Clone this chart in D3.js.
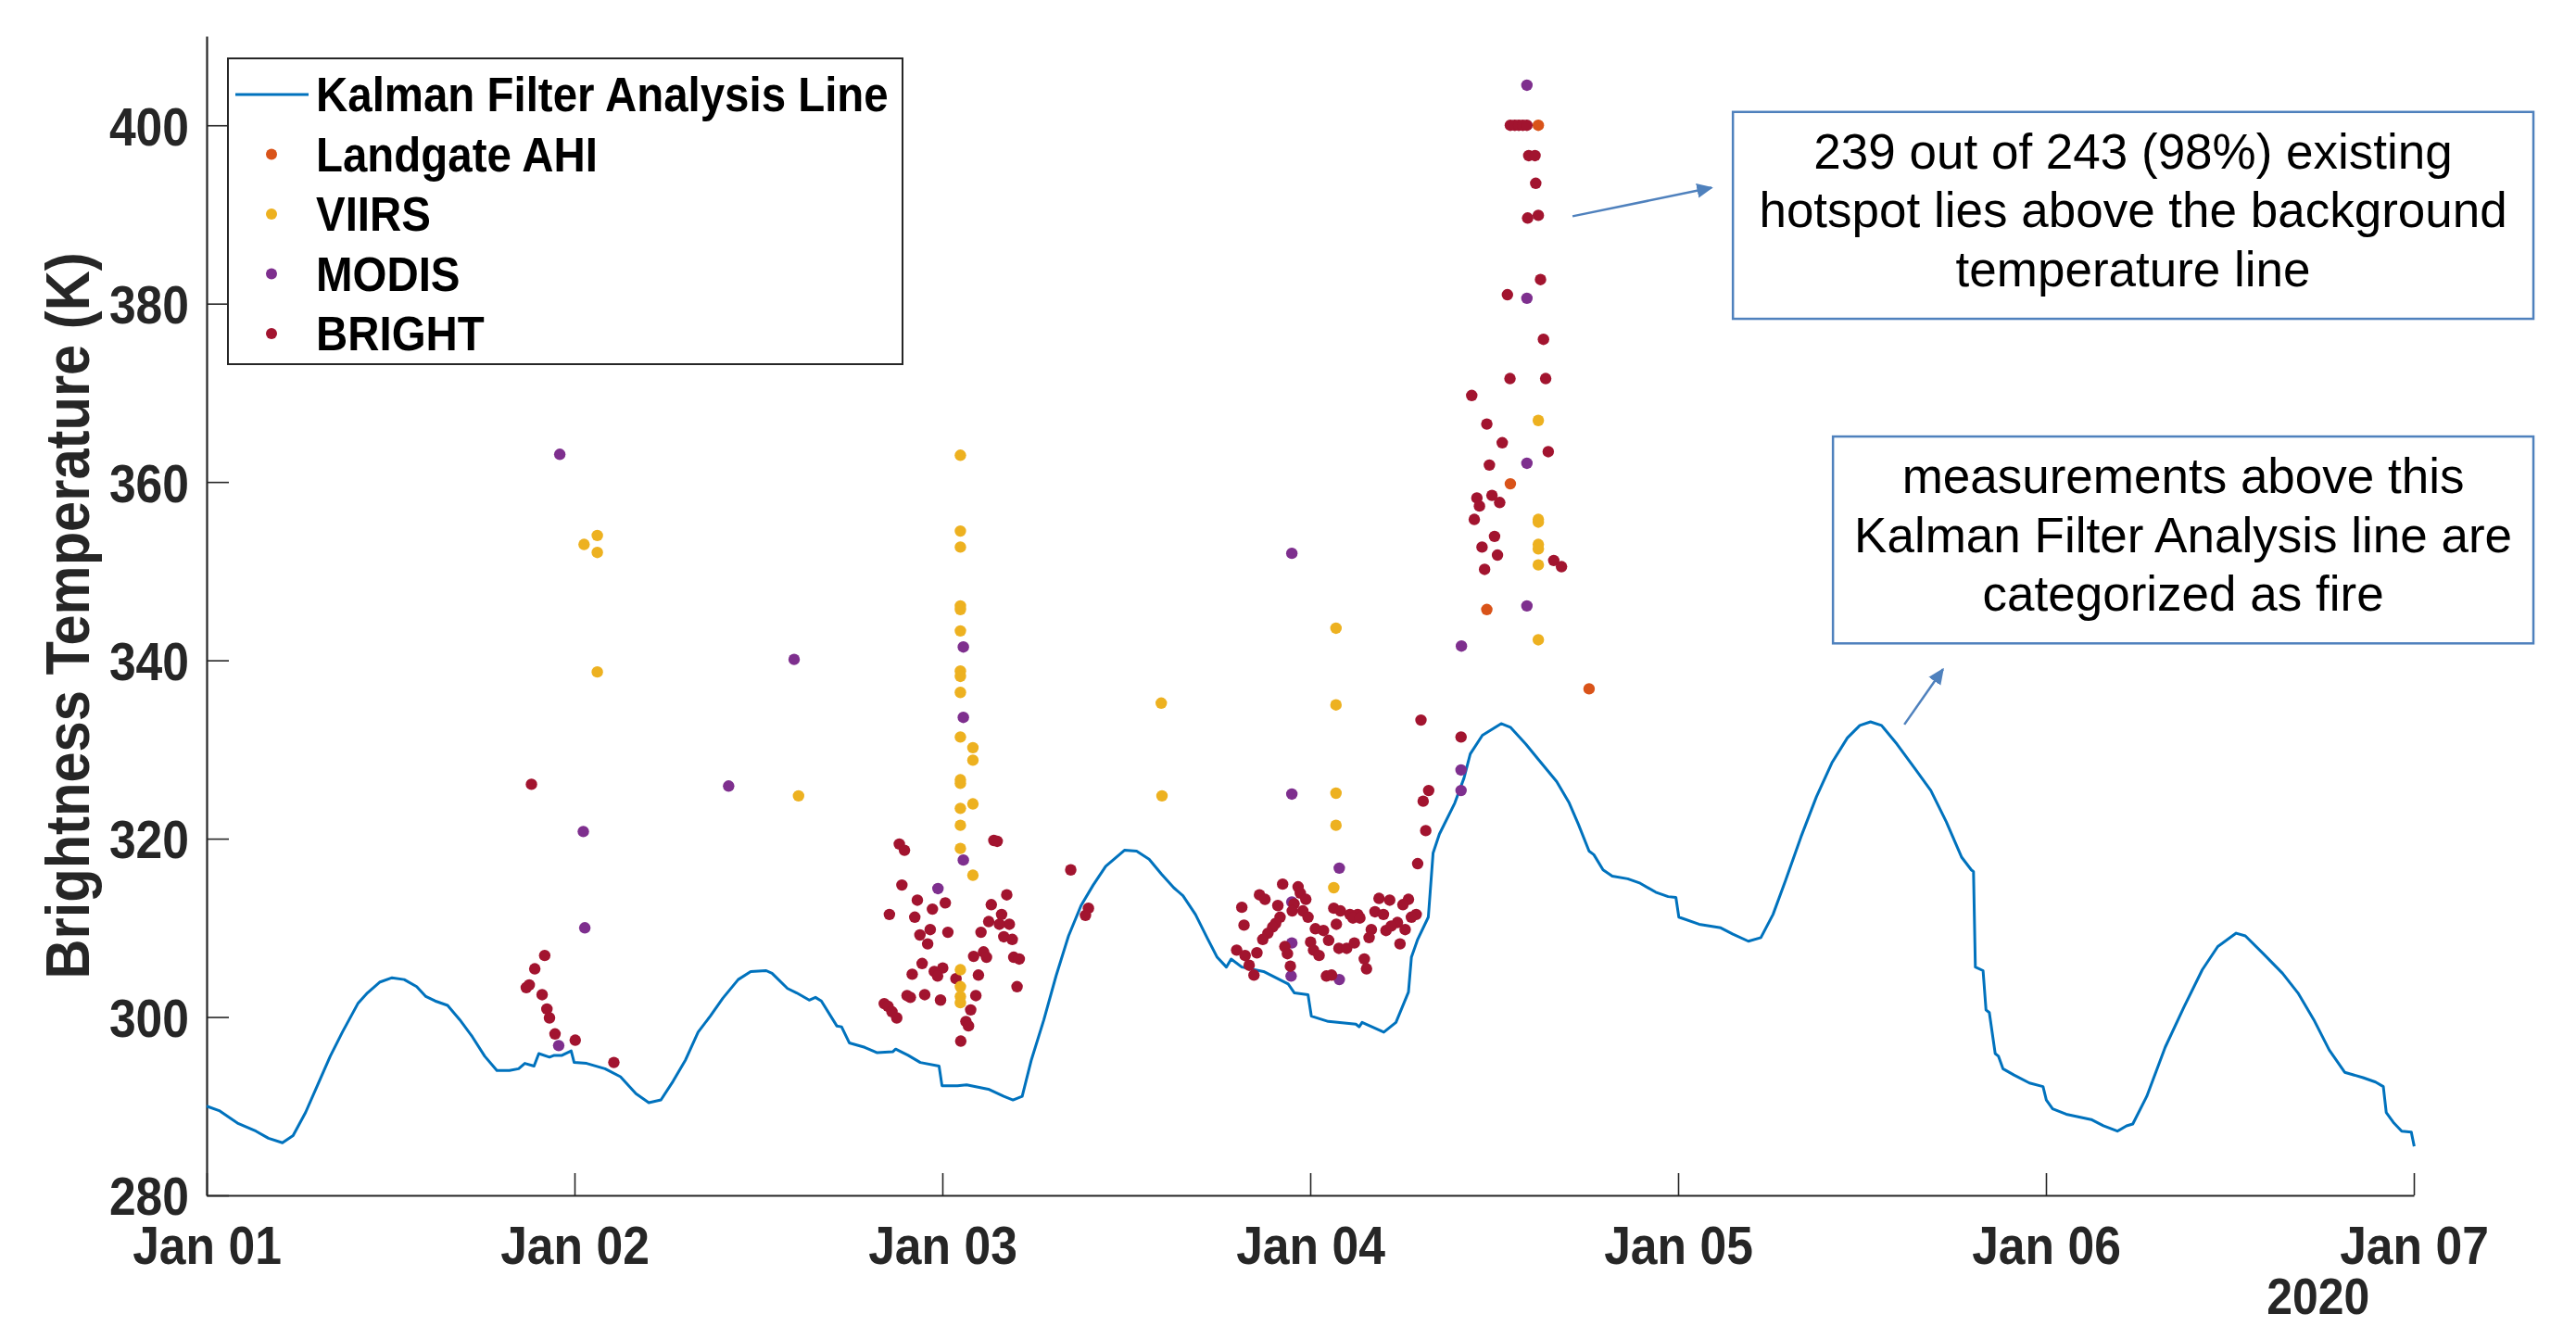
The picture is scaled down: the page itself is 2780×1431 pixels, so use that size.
<!DOCTYPE html>
<html><head><meta charset="utf-8">
<script src="https://cdn.jsdelivr.net/npm/d3@7"></script>
<style>
html,body{margin:0;padding:0;background:#fff;}
svg{display:block;}
</style></head><body>
<svg id="chart" width="2780" height="1431"></svg>
<script>
// ---------------- DATA (day offset from 2020-01-01 00:00 UTC, brightness temperature K) ----------------
const seriesNames = ["Kalman Filter Analysis Line", "Landgate AHI", "VIIRS", "MODIS", "BRIGHT"];
const seriesColors = ["#0072BD", "#D95319", "#EDB120", "#7E2F8E", "#A2142F"];
const yTickValues = [280, 300, 320, 340, 360, 380, 400];
const yearLabel = "2020";
const yAxisTitle = "Brightness Temperature (K)";
const note1 = ["239 out of 243 (98%) existing", "hotspot lies above the background", "temperature line"];
const note2 = ["measurements above this", "Kalman Filter Analysis line are", "categorized as fire"];

const kalmanLine = [
[0,290.0],[0.034,289.5],[0.084,288.1],[0.134,287.2],[0.168,286.4],[0.206,285.9],[0.235,286.7],[0.269,289.3],
[0.302,292.4],[0.336,295.6],[0.369,298.3],[0.411,301.5],[0.437,302.7],[0.470,303.9],[0.504,304.4],[0.537,304.2],
[0.571,303.4],[0.596,302.3],[0.621,301.8],[0.655,301.3],[0.688,299.7],[0.722,297.8],[0.756,295.6],[0.789,294.0],
[0.823,294.0],[0.848,294.2],[0.865,294.8],[0.890,294.5],[0.903,295.9],[0.932,295.5],[0.945,295.7],[0.966,295.7],
[0.991,296.2],[0.999,294.9],[1.033,294.8],[1.083,294.2],[1.125,293.3],[1.167,291.4],[1.202,290.4],[1.235,290.7],
[1.268,292.8],[1.302,295.2],[1.336,298.3],[1.369,300.1],[1.403,302.1],[1.445,304.2],[1.479,305.1],[1.521,305.2],
[1.537,304.9],[1.579,303.2],[1.604,302.7],[1.638,301.9],[1.655,302.2],[1.671,301.8],[1.713,299.0],[1.726,298.9],
[1.747,297.1],[1.789,296.6],[1.823,296.0],[1.865,296.1],[1.873,296.4],[1.907,295.7],[1.940,294.9],[1.991,294.5],
[1.999,292.3],[2.041,292.3],[2.066,292.4],[2.125,291.9],[2.167,291.1],[2.192,290.7],[2.217,291.1],[2.242,295.2],
[2.276,299.7],[2.309,304.6],[2.343,309.1],[2.377,312.5],[2.410,314.8],[2.444,316.9],[2.495,318.7],[2.528,318.6],
[2.562,317.7],[2.596,316.0],[2.629,314.5],[2.654,313.6],[2.688,311.5],[2.722,308.7],[2.747,306.7],[2.772,305.6],
[2.785,306.5],[2.814,305.6],[2.873,305.1],[2.940,303.7],[2.957,302.7],[2.994,302.5],[3.003,300.1],[3.049,299.5],
[3.124,299.2],[3.133,298.9],[3.141,299.4],[3.200,298.3],[3.233,299.4],[3.267,302.8],[3.275,306.7],[3.292,308.7],
[3.321,311.2],[3.334,318.4],[3.351,320.5],[3.393,324.0],[3.418,326.8],[3.435,329.5],[3.468,331.6],[3.519,332.9],
[3.544,332.5],[3.586,330.6],[3.620,328.9],[3.670,326.4],[3.704,324.0],[3.729,321.6],[3.758,318.6],[3.771,318.2],
[3.796,316.5],[3.821,315.8],[3.863,315.5],[3.897,315.0],[3.939,314.0],[3.973,313.5],[3.994,313.4],[4.002,311.2],
[4.057,310.4],[4.116,310.0],[4.149,309.3],[4.191,308.5],[4.225,308.9],[4.258,311.5],[4.292,315.3],[4.334,320.2],
[4.376,324.7],[4.418,328.5],[4.460,331.3],[4.494,332.7],[4.523,333.1],[4.553,332.7],[4.595,330.6],[4.645,327.8],
[4.687,325.4],[4.729,321.9],[4.771,317.9],[4.797,316.5],[4.803,316.3],[4.808,305.6],[4.829,305.2],[4.837,300.8],
[4.846,300.5],[4.862,295.9],[4.871,295.6],[4.883,294.2],[4.913,293.5],[4.955,292.6],[4.992,292.2],[5.001,290.7],
[5.018,289.7],[5.055,289.1],[5.123,288.5],[5.156,287.8],[5.194,287.2],[5.219,287.8],[5.236,288.0],[5.274,291.1],
[5.324,296.6],[5.375,301.1],[5.425,305.3],[5.467,307.9],[5.517,309.4],[5.542,309.1],[5.593,307.0],[5.643,304.9],
[5.685,302.7],[5.728,299.7],[5.770,296.3],[5.812,293.8],[5.862,293.2],[5.896,292.7],[5.917,292.2],[5.925,289.3],
[5.946,288.1],[5.967,287.2],[5.993,287.1],[6.001,285.5]
];

const landgateAHI = [[3.480,345.7],[3.544,359.8],[3.620,400.0],[3.758,336.8]];

const viirs = [
[1.026,353.0],[1.062,354.0],[1.062,352.1],[1.062,338.7],[1.609,324.8],[2.595,335.2],[2.597,324.8],
[2.049,363.0],[2.049,354.5],[2.049,352.7],[2.049,346.1],[2.049,345.7],[2.049,343.3],[2.049,338.8],[2.049,338.2],
[2.049,336.4],[2.049,331.4],[2.049,326.6],[2.049,326.2],[2.049,323.4],[2.049,321.5],[2.049,318.9],[2.049,305.3],
[2.049,303.4],[2.049,302.3],[2.049,301.6],[2.083,330.2],[2.083,328.8],[2.083,323.9],[2.083,315.9],
[3.070,343.6],[3.070,335.0],[3.070,325.1],[3.070,321.5],[3.064,314.5],
[3.620,366.9],[3.620,355.8],[3.620,355.5],[3.620,353.0],[3.620,352.5],[3.620,350.7],[3.620,342.3]
];

const modis = [
[0.960,363.1],[1.024,320.8],[1.028,310.0],[0.957,296.8],[1.419,325.9],[1.597,340.1],[1.988,314.4],
[2.057,341.5],[2.057,333.6],[2.057,317.6],[2.950,352.0],[2.950,325.0],[2.950,312.9],[2.950,308.3],[2.948,304.6],
[3.079,316.7],[3.079,304.2],[3.411,341.6],[3.410,327.7],[3.410,325.4],[3.589,404.5],[3.589,380.6],[3.589,362.1],[3.589,346.1]
];

const bright = [
// around Jan 02
[0.883,326.1],[0.919,306.9],[0.892,305.4],[0.877,303.6],[0.869,303.3],[0.912,302.5],[0.925,300.9],[0.932,299.9],
[0.947,298.1],[1.002,297.4],[1.107,294.9],
// around Jan 03
[1.883,319.4],[1.897,318.7],[2.140,319.8],[2.149,319.7],[1.890,314.8],[2.175,313.7],[1.932,313.1],[2.008,312.8],
[2.133,312.6],[1.973,312.1],[1.856,311.5],[1.925,311.2],[2.161,311.5],[2.126,310.7],[2.182,310.4],[2.155,310.4],
[1.967,309.8],[2.015,309.5],[2.105,309.5],[1.939,309.2],[2.167,309.0],[2.190,308.7],[1.960,308.2],[2.112,307.3],
[2.120,306.7],[2.085,306.8],[2.194,306.7],[2.209,306.5],[1.945,306.0],[2.001,305.5],[1.978,305.1],[1.918,304.8],
[1.987,304.6],[2.098,304.7],[2.037,304.3],[2.203,303.4],[1.904,302.4],[1.913,302.2],[1.952,302.5],[2.091,302.4],
[1.995,301.9],[1.842,301.5],[1.852,301.2],[1.863,300.6],[1.876,299.9],[2.077,300.8],[2.064,299.5],[2.071,299.0],
[2.050,297.3],[2.349,316.5],[2.397,312.2],[2.389,311.4],
// around Jan 04
[2.925,314.9],[2.967,314.6],[2.973,313.9],[2.988,313.2],[2.862,313.7],[2.877,313.2],[2.814,312.3],[2.912,312.5],
[2.956,312.7],[2.951,311.9],[2.980,311.9],[3.064,312.2],[3.082,311.9],[3.108,311.5],[3.129,311.5],[3.116,311.1],
[3.135,311.1],[2.994,311.2],[2.918,311.2],[2.906,310.5],[2.820,310.3],[3.187,313.3],[3.216,313.1],[3.267,313.2],
[3.252,312.6],[3.176,311.8],[3.199,311.5],[3.288,311.5],[3.275,311.2],[3.071,310.4],[3.014,309.9],[3.036,309.7],
[2.898,310.1],[2.885,309.4],[2.871,308.7],[3.050,308.6],[3.166,309.8],[3.160,308.9],[3.206,309.7],[3.237,310.6],
[3.258,309.8],[3.220,310.2],[3.244,308.2],[2.931,307.9],[2.938,307.1],[3.001,308.4],[3.009,307.5],[3.024,306.9],
[3.078,307.7],[3.099,307.7],[3.120,308.3],[2.855,307.2],[2.800,307.5],[2.823,306.9],[2.834,305.8],[2.847,304.7],
[2.946,305.7],[3.147,306.5],[3.153,305.4],[3.044,304.6],[3.058,304.7],
[3.301,333.3],[3.410,331.4],[3.322,325.4],[3.307,324.2],[3.314,320.9],[3.292,317.2],
// Jan 04 afternoon spike
[3.544,400.0],[3.556,400.0],[3.567,400.0],[3.578,400.0],[3.589,400.0],[3.594,396.6],[3.611,396.6],[3.613,393.5],
[3.591,389.6],[3.620,389.9],[3.626,382.7],[3.536,381.0],[3.634,376.0],[3.543,371.6],[3.640,371.6],[3.439,369.7],
[3.480,366.5],[3.522,364.4],[3.647,363.4],[3.487,361.9],[3.453,358.2],[3.494,358.5],[3.515,357.7],[3.460,357.3],
[3.446,355.8],[3.501,353.9],[3.467,352.7],[3.509,351.8],[3.662,351.2],[3.683,350.5],[3.474,350.2]
];

// annotation anchors in data units [day, K]
const note1Box = {x0:4.149, x1:6.325, yTop:401.5, yBottom:378.3};
const note2Box = {x0:4.421, x1:6.325, yTop:365.1, yBottom:341.9};
const arrow1 = [[3.713,389.8],[4.091,393.0]];
const arrow2 = [[4.615,332.8],[4.720,339.0]];

// ---------------- CHART ----------------
const t0 = Date.UTC(2020,0,1);
const toDate = d => new Date(t0 + d*864e5);
const svg = d3.select("#chart");
const FONT = "'Liberation Sans', Arial, Helvetica, sans-serif";
const AX = "#262626";
const CONDENSE = 0.89;

const x = d3.scaleUtc().domain([toDate(0), toDate(6)]).range([223, 2605]);
const y = d3.scaleLinear().domain([280, 410]).range([1290, 39]);

function condense(sel, f){
  sel.each(function(){
    const L = this.getComputedTextLength();
    this.setAttribute("textLength", (L*f).toFixed(1));
    this.setAttribute("lengthAdjust", "spacingAndGlyphs");
  });
}

// axes
const xAxis = d3.axisBottom(x).ticks(d3.utcDay.every(1)).tickFormat(d3.utcFormat("%b %d"))
  .tickSizeInner(-24).tickSizeOuter(0).tickPadding(33);
const yAxis = d3.axisLeft(y).tickValues(yTickValues).tickSizeInner(-24).tickSizeOuter(0).tickPadding(19);

const gx = svg.append("g").attr("transform", "translate(0,1290)").call(xAxis);
const gy = svg.append("g").attr("transform", "translate(223,0)").call(yAxis);
[gx, gy].forEach(g => {
  g.select(".domain").attr("stroke", AX).attr("stroke-width", 2.2);
  g.selectAll(".tick line").attr("stroke", AX).attr("stroke-width", 1.6);
  g.selectAll(".tick text").attr("fill", AX).style("font-family", FONT)
    .style("font-weight", "bold").style("font-size", "58px");
});
gy.selectAll(".tick text").attr("dy", "0.36em");
condense(gx.selectAll(".tick text"), CONDENSE);
condense(gy.selectAll(".tick text"), CONDENSE);

// year label under last tick
const yl = svg.append("text").attr("x", x(toDate(5.74))).attr("y", 1418)
  .attr("text-anchor", "middle").attr("fill", AX)
  .style("font-family", FONT).style("font-weight", "bold").style("font-size", "56px").text(yearLabel);
condense(yl, CONDENSE);

// y axis title
const yt = svg.append("text").attr("transform", `translate(96,${(y(280)+y(410))/2}) rotate(-90)`)
  .attr("text-anchor", "middle").attr("fill", AX)
  .style("font-family", FONT).style("font-weight", "bold").style("font-size", "67px").text(yAxisTitle);
condense(yt, CONDENSE);

// Kalman line
const line = d3.line().x(d => x(toDate(d[0]))).y(d => y(d[1]));
svg.append("path").datum(kalmanLine).attr("d", line).attr("fill", "none")
  .attr("stroke", seriesColors[0]).attr("stroke-width", 3).attr("stroke-linejoin", "round");

// scatter series
function dots(data, color){
  svg.append("g").selectAll("circle").data(data).join("circle")
    .attr("cx", d => x(toDate(d[0]))).attr("cy", d => y(d[1])).attr("r", 6.2).attr("fill", color);
}
dots(landgateAHI, seriesColors[1]);
dots(modis, seriesColors[3]);
dots(bright, seriesColors[4]);
dots(viirs, seriesColors[2]);

// legend
const lg = svg.append("g");
lg.append("rect").attr("x", 246).attr("y", 63).attr("width", 728).attr("height", 330)
  .attr("fill", "#fff").attr("stroke", AX).attr("stroke-width", 2);
seriesNames.forEach((name, i) => {
  const cy = 102 + i*64.5;
  if (i === 0) {
    lg.append("line").attr("x1", 254).attr("x2", 333).attr("y1", cy).attr("y2", cy)
      .attr("stroke", seriesColors[0]).attr("stroke-width", 3);
  } else {
    lg.append("circle").attr("cx", 293).attr("cy", cy).attr("r", 6).attr("fill", seriesColors[i]);
  }
  const t = lg.append("text").attr("x", 341).attr("y", cy + 18).attr("fill", "#000")
    .style("font-family", FONT).style("font-weight", "bold").style("font-size", "51px").text(name);
  condense(t, 0.93);
});

// annotations
const BLUE = "#4F81BD";
svg.append("defs").append("marker").attr("id", "ah").attr("viewBox", "0 0 10 10")
  .attr("refX", 9).attr("refY", 5).attr("markerWidth", 7).attr("markerHeight", 7)
  .attr("markerUnits", "strokeWidth").attr("orient", "auto")
  .append("path").attr("d", "M0,0.5 L10,5 L0,9.5 Z").attr("fill", BLUE);

function noteBox(b, lines){
  const x0 = x(toDate(b.x0)), x1 = x(toDate(b.x1)), yt0 = y(b.yTop), yb = y(b.yBottom);
  svg.append("rect").attr("x", x0).attr("y", yt0).attr("width", x1-x0).attr("height", yb-yt0)
    .attr("fill", "#fff").attr("stroke", BLUE).attr("stroke-width", 2.5);
  lines.forEach((s, i) => {
    svg.append("text").attr("x", (x0+x1)/2).attr("y", yt0 + 61 + i*63.5).attr("text-anchor", "middle")
      .attr("fill", "#000").style("font-family", FONT).style("font-size", "53px").text(s);
  });
}
noteBox(note1Box, note1);
noteBox(note2Box, note2);

function arrow(a){
  svg.append("line").attr("x1", x(toDate(a[0][0]))).attr("y1", y(a[0][1]))
    .attr("x2", x(toDate(a[1][0]))).attr("y2", y(a[1][1]))
    .attr("stroke", BLUE).attr("stroke-width", 2.5).attr("marker-end", "url(#ah)");
}
arrow(arrow1);
arrow(arrow2);
</script>
</body></html>
